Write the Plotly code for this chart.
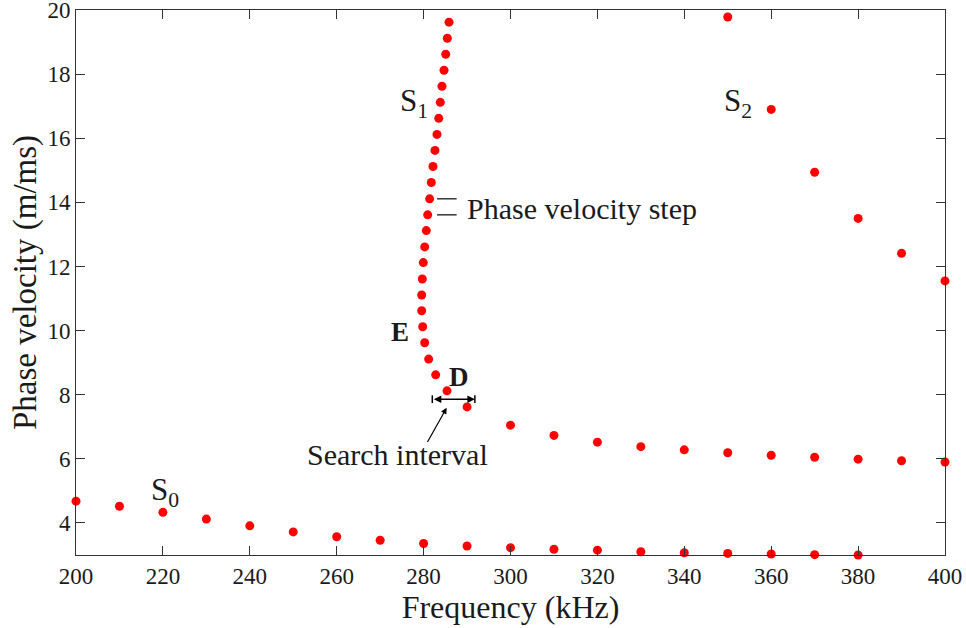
import plotly.graph_objects as go

# S0 branch
s0_freq = [200, 210, 220, 230, 240, 250, 260, 270, 280, 290, 300, 310, 320, 330, 340, 350, 360, 370, 380]
s0_vel = [4.68, 4.52, 4.33, 4.12, 3.91, 3.72, 3.57, 3.46, 3.36, 3.28, 3.23, 3.18, 3.15, 3.10, 3.07, 3.05, 3.03, 3.01, 3.00]

# Lower continuation of S1 (fixed frequency steps)
s1b_freq = [290, 300, 310, 320, 330, 340, 350, 360, 370, 380, 390, 400]
s1b_vel = [7.62, 7.05, 6.73, 6.52, 6.38, 6.28, 6.19, 6.11, 6.05, 5.99, 5.94, 5.90]

# S1 traced with phase-velocity steps
s1_vel = [8.12, 8.62, 9.11, 9.62, 10.12, 10.62, 11.11, 11.61, 12.12, 12.61, 13.12, 13.61,
          14.11, 14.62, 15.12, 15.62, 16.12, 16.62, 17.12, 17.62, 18.12, 18.62, 19.12, 19.62]
s1_freq = [285.39, 282.78, 281.17, 280.25, 279.79, 279.56, 279.56, 279.70, 279.93, 280.25, 280.62, 280.94,
           281.40, 281.77, 282.16, 282.62, 283.08, 283.48, 283.84, 284.23, 284.70, 285.09, 285.46, 285.85]

# S2 branch
s2_freq = [350, 360, 370, 380, 390, 400]
s2_vel = [19.78, 16.90, 14.94, 13.50, 12.41, 11.55]

x_ticks = [200, 220, 240, 260, 280, 300, 320, 340, 360, 380, 400]
y_ticks = [4, 6, 8, 10, 12, 14, 16, 18, 20]

FONT = '"Liberation Serif", "DejaVu Serif", serif'
TXT = "#1a1a1a"
AX = "#333333"

marker = dict(color="#ff0000", size=9)
fig = go.Figure()
for fx, fy in [(s0_freq, s0_vel), (s1b_freq, s1b_vel), (s1_freq, s1_vel), (s2_freq, s2_vel)]:
    fig.add_trace(go.Scatter(x=fx, y=fy, mode="markers", marker=marker, showlegend=False, cliponaxis=False))

ann = []
def label(x, y, t, size=31):
    ann.append(dict(x=x, y=y, xref="x", yref="y", text=t, showarrow=False,
                    font=dict(family=FONT, size=size, color=TXT)))

label(277.9, 17.1, "S<sub>1</sub>")
label(352.4, 17.1, "S<sub>2</sub>")
label(220.5, 4.95, "S<sub>0</sub>")
label(274.6, 9.96, "<b>E</b>", 27)
label(288.2, 8.55, "<b>D</b>", 27)
ann.append(dict(x=289.5, y=13.8, xref="x", yref="y", text="Phase velocity step", showarrow=False,
                xanchor="left", font=dict(family=FONT, size=30, color=TXT)))
ann.append(dict(x=274.1, y=6.12, xref="x", yref="y", text="Search interval", showarrow=False,
                font=dict(family=FONT, size=30, color=TXT)))
# double arrow for search interval
ann.append(dict(x=291.8, y=7.86, ax=282.0, ay=7.86, xref="x", yref="y", axref="x", ayref="y",
                text="", showarrow=True, arrowhead=2, arrowside="end+start", arrowsize=1,
                arrowwidth=1.5, arrowcolor="black"))
# pointer arrow
ann.append(dict(x=285.3, y=7.59, ax=280.7, ay=6.48, xref="x", yref="y", axref="x", ayref="y",
                text="", showarrow=True, arrowhead=2, arrowsize=1, arrowwidth=1.2, arrowcolor="black"))

shapes = [
    dict(type="line", x0=283.1, x1=287.6, y0=14.11, y1=14.11, xref="x", yref="y", line=dict(color="black", width=1.2)),
    dict(type="line", x0=283.1, x1=287.6, y0=13.61, y1=13.61, xref="x", yref="y", line=dict(color="black", width=1.2)),
    dict(type="line", x0=282.0, x1=282.0, y0=7.74, y1=7.98, xref="x", yref="y", line=dict(color="black", width=1.5)),
    dict(type="line", x0=291.8, x1=291.8, y0=7.74, y1=7.98, xref="x", yref="y", line=dict(color="black", width=1.5)),
]

axis_common = dict(showgrid=False, zeroline=False, showline=True, mirror="ticks", linecolor=AX,
                   linewidth=1, ticks="inside", ticklen=9, tickcolor=AX, tickwidth=1,
                   automargin=False, ticklabeloverflow="allow",
                   tickfont=dict(family=FONT, size=23, color=TXT))

fig.update_layout(
    width=966, height=628,
    margin=dict(l=76, r=21, t=10, b=73),
    plot_bgcolor="white", paper_bgcolor="white",
    font=dict(family=FONT, color=TXT),
    annotations=ann, shapes=shapes,
    xaxis=dict(range=[200, 400], tickvals=x_ticks, ticktext=[str(v) for v in x_ticks],
               title=dict(text="Frequency (kHz)", font=dict(family=FONT, size=32, color=TXT), standoff=6),
               **axis_common),
    yaxis=dict(range=[3, 20], tickvals=y_ticks, ticktext=[str(v) for v in y_ticks],
               title=dict(text="Phase velocity (m/ms)", font=dict(family=FONT, size=33, color=TXT), standoff=0),
               **axis_common),
)

fig.write_html("out.html")
